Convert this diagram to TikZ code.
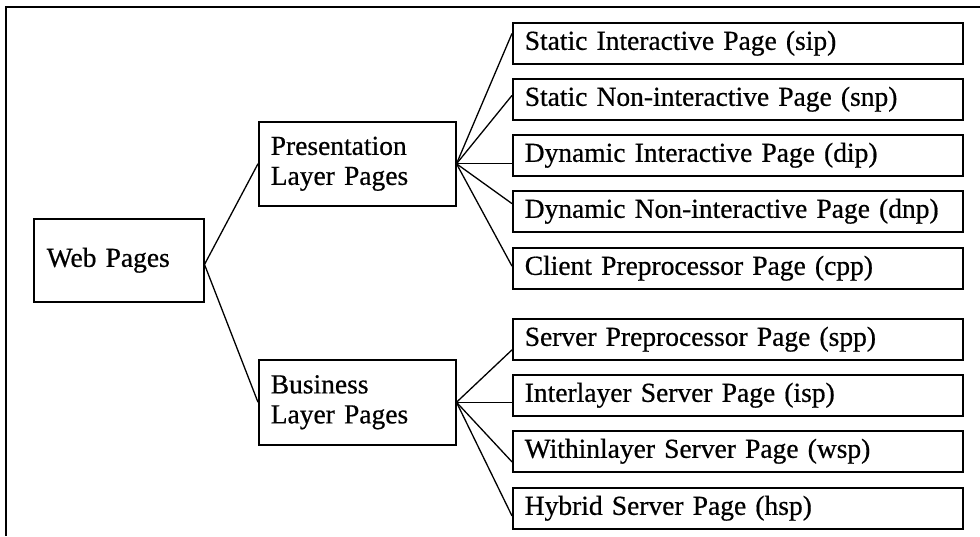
\documentclass[tikz,border=0pt]{standalone}
\usepackage{fontspec}
\setmainfont{Liberation Serif}
\newfontfamily\boxfont[FakeBold=0.6]{Liberation Serif}
\usetikzlibrary{calc}
\begin{document}
\begin{tikzpicture}[x=1pt,y=-1pt,
  box/.style={draw, line width=1.5pt, anchor=north west, align=left,
    inner xsep=12pt, inner ysep=0pt, font=\boxfont\fontsize{27.5}{30}\selectfont},
  leaf/.style={box, minimum width=450pt, text width=426pt, minimum height=41pt},
  layer/.style={box, minimum width=197pt, text width=173pt, minimum height=84pt},
  link/.style={line width=1.3pt}]
\useasboundingbox (0,0) rectangle (980,536);

% outer frame (top and left edges)
\draw[line width=2.2pt] (980,7) -- (6,7) -- (6,536);

% root
\node[box, minimum width=170pt, text width=144pt, minimum height=83pt] (web) at (33,218) {Web Pages};

% layers
\node[layer] (pres) at (258,121) {Presentation\\Layer Pages};
\node[layer, minimum height=85pt] (bus) at (258,359) {Business\\Layer Pages};

% presentation layer page kinds
\node[leaf] (sip) at (512,22)  {Static Interactive Page (sip)};
\node[leaf] (snp) at (512,78)  {Static Non-interactive Page (snp)};
\node[leaf] (dip) at (512,134) {Dynamic Interactive Page (dip)};
\node[leaf] (dnp) at (512,190) {Dynamic Non-interactive Page (dnp)};
\node[leaf] (cpp) at (512,247) {Client Preprocessor Page (cpp)};

% business layer page kinds
\node[leaf] (spp) at (512,318) {Server Preprocessor Page (spp)};
\node[leaf] (isp) at (512,374) {Interlayer Server Page (isp)};
\node[leaf] (wsp) at (512,430) {Withinlayer Server Page (wsp)};
\node[leaf] (hsp) at (512,487) {Hybrid Server Page (hsp)};

% root to layers
\draw[link] ($(web.north east)!0.55!(web.south east)$) -- (pres.west);
\draw[link] ($(web.north east)!0.55!(web.south east)$) -- (bus.west);

% presentation fan
\draw[link] (pres.east) -- ($(sip.north west)!0.27!(sip.south west)$);
\draw[link] (pres.east) -- ($(snp.north west)!0.41!(snp.south west)$);
\draw[link] (pres.east) -- (pres.east -| dip.west);
\draw[link] (pres.east) -- ($(dnp.north west)!0.32!(dnp.south west)$);
\draw[link] (pres.east) -- ($(cpp.north west)!0.45!(cpp.south west)$);

% business fan
\draw[link] (bus.east) -- ($(spp.north west)!0.75!(spp.south west)$);
\draw[link] (bus.east) -- (bus.east -| isp.west);
\draw[link] (bus.east) -- ($(wsp.north west)!0.75!(wsp.south west)$);
\draw[link] (bus.east) -- ($(hsp.north west)!0.68!(hsp.south west)$);
\end{tikzpicture}
\end{document}
